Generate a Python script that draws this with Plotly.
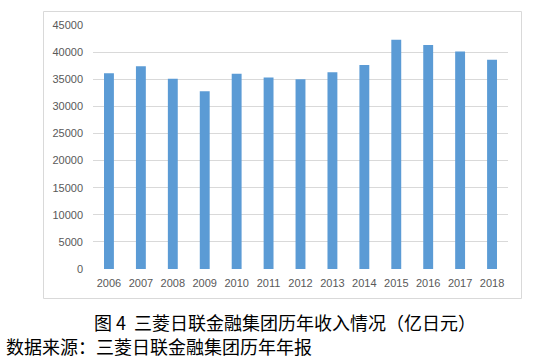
import plotly.graph_objects as go

years = ["2006", "2007", "2008", "2009", "2010", "2011", "2012",
         "2013", "2014", "2015", "2016", "2017", "2018"]
revenue = [36100, 37400, 35100, 32800, 36000, 35300, 35000,
           36300, 37600, 42300, 41300, 40100, 38600]
y_ticks = [0, 5000, 10000, 15000, 20000, 25000, 30000, 35000, 40000, 45000]
caption = "图 4  三菱日联金融集团历年收入情况（亿日元）"
source = "数据来源：三菱日联金融集团历年年报"

W, H = 533, 358
L, R, T, B = 93, 25, 25, 89
pw, ph = W - L - R, H - T - B

def px_x(p):
    return (p - L) / pw

def px_y(p):
    return (H - B - p) / ph

fig = go.Figure(go.Bar(x=years, y=revenue, marker=dict(color="#5B9BD5", line_width=0),
                       width=0.31))

fig.update_layout(
    width=W, height=H,
    margin=dict(l=L, r=R, t=T, b=B, autoexpand=False),
    paper_bgcolor="white", plot_bgcolor="white",
    showlegend=False,
    font=dict(family="Liberation Sans, Arial, sans-serif", size=11, color="#595959"),
    xaxis=dict(type="category", showgrid=False, showline=False, ticks="",
               tickfont=dict(size=11, color="#595959"), ticklabelstandoff=6),
    yaxis=dict(range=[0, 45000], tickvals=y_ticks, ticktext=[str(v) for v in y_ticks],
               showgrid=True, gridcolor="#D9D9D9", gridwidth=1, zeroline=False,
               showline=False, ticks="", tickfont=dict(size=11, color="#595959"),
               ticklabelstandoff=9),
    shapes=[dict(type="rect", xref="paper", yref="paper",
                 x0=px_x(43.5), x1=px_x(521.5), y0=px_y(298.5), y1=px_y(11.5),
                 line=dict(color="#D9D9D9", width=1), fillcolor="rgba(0,0,0,0)",
                 layer="below")],
    annotations=[
        dict(text=caption, xref="paper", yref="paper", x=px_x(92), y=px_y(322),
             xanchor="left", yanchor="middle", showarrow=False,
             font=dict(family="Noto Sans CJK SC", size=18, color="#000000")),
        dict(text=source, xref="paper", yref="paper", x=px_x(4), y=px_y(346),
             xanchor="left", yanchor="middle", showarrow=False,
             font=dict(family="Noto Sans CJK SC", size=18, color="#000000")),
    ],
)

fig.write_html("out.html", config={"displayModeBar": False},
               post_script="document.body.style.margin='0';document.body.style.padding='0';")
